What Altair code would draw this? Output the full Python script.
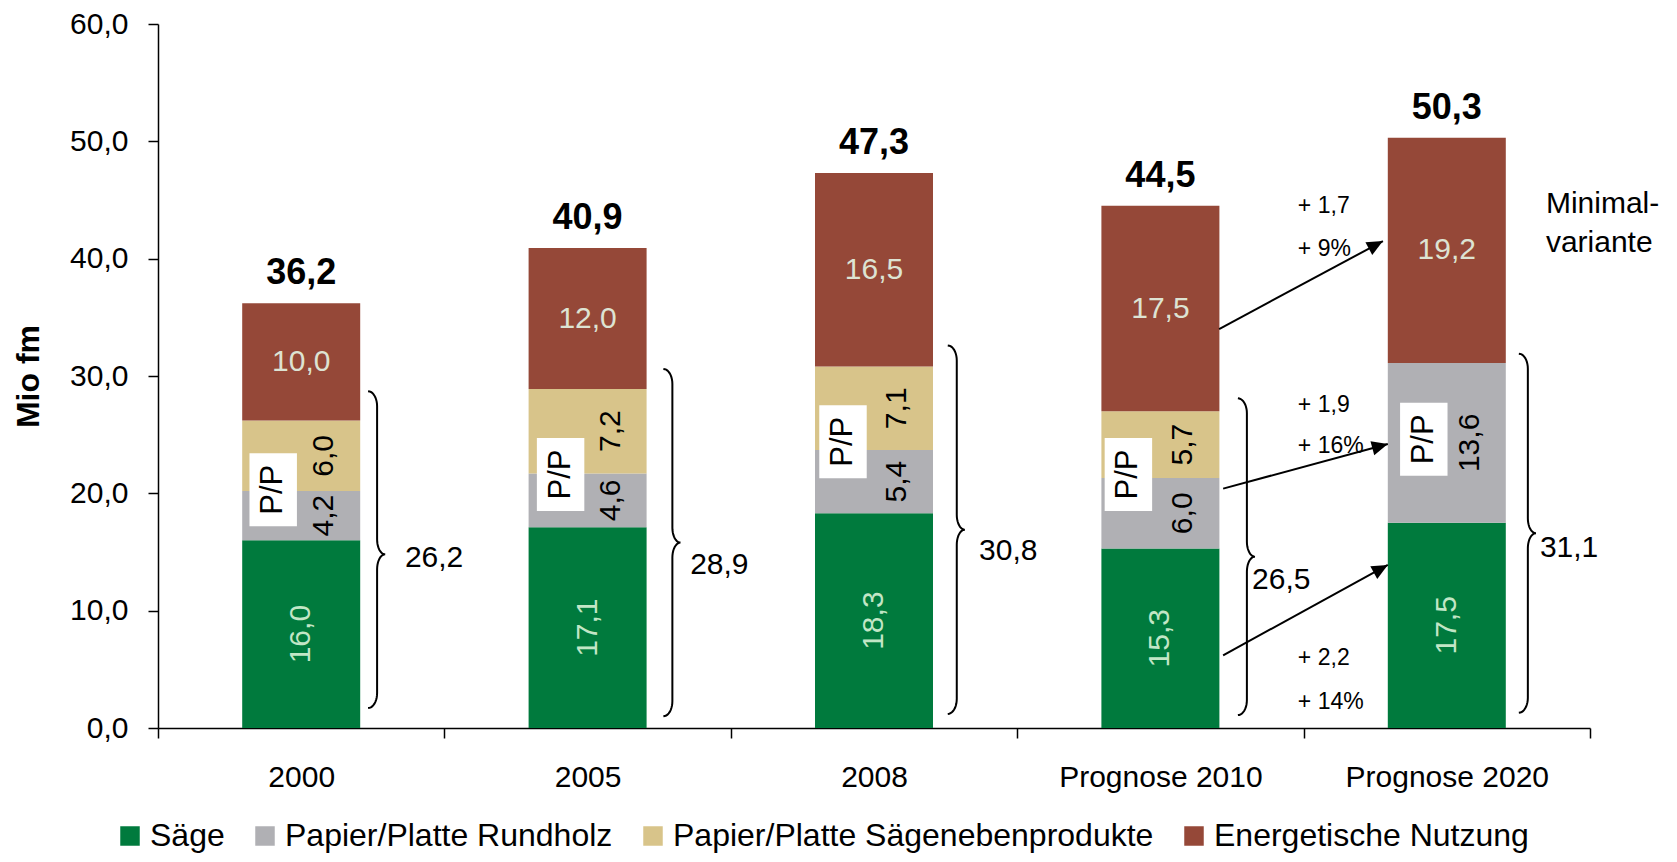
import json
import math
import altair as alt
import pandas as pd

# ---------------- data ----------------
categories = ["2000", "2005", "2008", "Prognose 2010", "Prognose 2020"]
series = ["Säge", "Papier/Platte Rundholz", "Papier/Platte Sägenebenprodukte", "Energetische Nutzung"]
saege = [16.0, 17.1, 18.3, 15.3, 17.5]
rundholz = [4.2, 4.6, 5.4, 6.0, 13.6]
saegeneben = [6.0, 7.2, 7.1, 5.7, 0.0]
energie = [10.0, 12.0, 16.5, 17.5, 19.2]
totals = [36.2, 40.9, 47.3, 44.5, 50.3]
colors = ["#007A3D", "#B0B0B4", "#D8C48A", "#954838"]

# braces (sum of Säge + P/P)
brace_sums = [26.2, 28.9, 30.8, 26.5, 31.1]
brace_x = [0.765, 1.796, 2.789, 3.802, 4.783]
brace_top = [28.7, 30.6, 32.6, 28.1, 31.9]
brace_mid = [14.8, 15.8, 16.9, 14.6, 16.6]
brace_bottom = [1.7, 1.0, 1.2, 1.1, 1.3]
brace_label_x = [0.862, 1.858, 2.867, 3.820, 4.825]
brace_label_y = [14.5, 13.9, 15.1, 12.6, 15.3]

# "P/P" boxes
pp_y = [20.3, 21.6, 24.4, 21.6, 24.6]
pp_dx_px = [-28, -27, -31, -32, -23]

# arrows 2010 -> 2020
arrow_x1 = [3.705, 3.719, 3.719]
arrow_y1 = [34.0, 20.4, 6.2]
arrow_x2 = [4.277, 4.294, 4.294]
arrow_y2 = [41.5, 24.2, 13.9]

change_labels = ["+ 1,7", "+ 9%", "+ 1,9", "+ 16%", "+ 2,2", "+ 14%"]
change_y = [44.5, 40.8, 27.5, 24.0, 6.0, 2.2]
change_x = 3.98

note_lines = ["Minimal-", "variante"]
note_y = [43.85, 40.6]
note_x = 4.846

y_ticks = [0, 10, 20, 30, 40, 50, 60]

# ---------------- layout ----------------
FONT = "Liberation Sans"
W, H = 1432, 704
XMAX, YMAX = 5, 60
PXX = W / XMAX
PXY = H / YMAX
BAR_HALF = 59 / PXX
SEG_DX = 23 / PXX


def fmt(v):
    return f"{v:.1f}".replace(".", ",")


x_scale = alt.Scale(domain=[0, XMAX], nice=False, zero=False)
y_scale = alt.Scale(domain=[0, YMAX], nice=False, zero=False)

label_arr = json.dumps(categories, ensure_ascii=False)
x_axis = alt.Axis(
    values=[i * 0.5 for i in range(0, 2 * XMAX + 1)],
    labelExpr=f"datum.value % 1 === 0.5 ? {label_arr}[floor(datum.value)] : ''",
    tickOpacity={"condition": {"test": "datum.value % 1 === 0", "value": 1}, "value": 0},
    tickSize=10,
    tickColor="black",
    tickWidth=1.5,
    domainColor="black",
    domainWidth=1.5,
    labelFontSize=30,
    labelFont=FONT,
    labelColor="black",
    labelPadding=24,
    labelLimit=600,
    labelOverlap=False,
    labelFlush=False,
    grid=False,
    title=None,
)
y_axis = alt.Axis(
    values=y_ticks,
    labelExpr="replace(format(datum.value, '.1f'), '.', ',')",
    tickSize=10,
    tickColor="black",
    tickWidth=1.5,
    domainColor="black",
    domainWidth=1.5,
    labelFontSize=30,
    labelFont=FONT,
    labelColor="black",
    labelPadding=20,
    grid=False,
    title="Mio fm",
    titleFont=FONT,
    titleFontSize=32,
    titleFontWeight="bold",
    titleColor="black",
    titleAngle=270,
    titleX=-130,
    titleY=H / 2,
    titleAlign="center",
    titleBaseline="middle",
)


def X(field):
    return alt.X(field, type="quantitative", scale=x_scale, axis=x_axis)


def Y(field):
    return alt.Y(field, type="quantitative", scale=y_scale, axis=y_axis)


# ---------------- bars ----------------
bar_rows, seg_rows = [], []
for i, cat in enumerate(categories):
    c = i + 0.5
    start = 0.0
    for s, vals in zip(series, [saege, rundholz, saegeneben, energie]):
        v = vals[i]
        if v <= 0:
            continue
        bar_rows.append({"cat": cat, "series": s, "x0": c - BAR_HALF, "x1": c + BAR_HALF,
                         "y0": start, "y1": start + v, "order": series.index(s)})
        seg_rows.append({"series": s, "label": fmt(v), "xc": c, "xs": c + SEG_DX,
                         "ym": start + v / 2})
        start += v
bars_df = pd.DataFrame(bar_rows)
seg_df = pd.DataFrame(seg_rows)

bars = alt.Chart(bars_df).mark_bar(strokeWidth=0).encode(
    x=X("x0"), x2="x1", y=Y("y0"), y2="y1",
    color=alt.Color("series:N", scale=alt.Scale(domain=series, range=colors),
                    legend=alt.Legend(orient="none", legendX=-44, legendY=796,
                                      direction="horizontal", columns=4, title=None,
                                      symbolType="square", symbolSize=380,
                                      symbolStrokeWidth=0, labelFontSize=32,
                                      labelFont=FONT, labelColor="black",
                                      labelLimit=1000, labelOffset=4,
                                      columnPadding=24, padding=0)),
)

green_lbl = alt.Chart(seg_df[seg_df.series == series[0]]).mark_text(
    font=FONT, fontSize=30, angle=270, color="#C2E6C6", align="center", baseline="middle"
).encode(x=X("xc"), y=Y("ym"), text="label:N")

pp_lbl = alt.Chart(seg_df[seg_df.series.isin(series[1:3])]).mark_text(
    font=FONT, fontSize=30, angle=270, color="black", align="center", baseline="middle"
).encode(x=X("xs"), y=Y("ym"), text="label:N")

brown_lbl = alt.Chart(seg_df[seg_df.series == series[3]]).mark_text(
    font=FONT, fontSize=30, color="#DDE3D3", align="center", baseline="middle"
).encode(x=X("xc"), y=Y("ym"), text="label:N")

tot_df = pd.DataFrame({"x": [i + 0.5 for i in range(len(categories))], "y": totals,
                       "label": [fmt(t) for t in totals]})
tot_lbl = alt.Chart(tot_df).mark_text(
    font=FONT, fontSize=36, fontWeight="bold", color="black", align="center",
    baseline="alphabetic", dy=-19
).encode(x=X("x"), y=Y("y"), text="label:N")

# ---------------- P/P boxes ----------------
pp_df = pd.DataFrame({"x": [i + 0.5 + d / PXX for i, d in enumerate(pp_dx_px)], "y": pp_y,
                      "label": ["P/P"] * len(pp_y)})
pp_box = alt.Chart(pp_df).mark_point(
    shape="M-0.65,-1L0.65,-1L0.65,1L-0.65,1Z", filled=True, color="white",
    opacity=1, size=73 * 73, strokeWidth=0
).encode(x=X("x"), y=Y("y"))
pp_text = alt.Chart(pp_df).mark_text(
    font=FONT, fontSize=31, angle=270, color="black", align="center", baseline="middle"
).encode(x=X("x"), y=Y("y"), text="label:N")

# ---------------- braces ----------------
RX_TOP, RX_MID, RY = 9.0, 8.0, 15.0
brace_rows = []
for b in range(len(brace_x)):
    sx, top, mid, bot = brace_x[b], brace_top[b], brace_mid[b], brace_bottom[b]
    pts = []  # (dx px from spine, reference y value, dy px on screen)
    n = 10
    for k in range(n + 1):
        t = math.pi / 2 * k / n
        pts.append((-RX_TOP + RX_TOP * math.sin(t), top, RY - RY * math.cos(t)))
    for k in range(n + 1):
        t = math.pi / 2 * k / n
        pts.append((RX_MID - RX_MID * math.cos(t), mid, -RY + RY * math.sin(t)))
    for k in range(1, n + 1):
        t = math.pi / 2 * k / n
        pts.append((RX_MID - RX_MID * math.sin(t), mid, RY - RY * math.cos(t)))
    for k in range(n + 1):
        t = math.pi / 2 * k / n
        pts.append((-RX_TOP + RX_TOP * math.cos(t), bot, -RY + RY * math.sin(t)))
    for j, (dxp, yref, dyp) in enumerate(pts):
        brace_rows.append({"id": b, "ord": j, "x": sx + dxp / PXX, "y": yref - dyp / PXY})
brace_df = pd.DataFrame(brace_rows)
braces = alt.Chart(brace_df).mark_line(color="black", strokeWidth=2).encode(
    x=X("x"), y=Y("y"), detail="id:N", order="ord:Q")

brace_lbl_df = pd.DataFrame({"x": brace_label_x, "y": brace_label_y,
                             "label": [fmt(v) for v in brace_sums]})
brace_lbl = alt.Chart(brace_lbl_df).mark_text(
    font=FONT, fontSize=30, color="black", align="left", baseline="middle"
).encode(x=X("x"), y=Y("y"), text="label:N")

# ---------------- arrows ----------------
angles = []
for a in range(len(arrow_x1)):
    dx = (arrow_x2[a] - arrow_x1[a]) * PXX
    dy = -(arrow_y2[a] - arrow_y1[a]) * PXY
    angles.append(math.degrees(math.atan2(dy, dx)) % 360)
arrow_df = pd.DataFrame({"x1": arrow_x1, "y1": arrow_y1, "x2": arrow_x2, "y2": arrow_y2,
                         "ang": angles})
arrow_lines = alt.Chart(arrow_df).mark_rule(color="black", strokeWidth=2).encode(
    x=X("x1"), y=Y("y1"), x2="x2", y2="y2")
arrow_heads = alt.Chart(arrow_df).mark_point(
    shape="M0,0L-1,-0.45L-1,0.45Z", filled=True, color="black", opacity=1,
    size=1024, strokeWidth=0
).encode(x=X("x2"), y=Y("y2"), angle=alt.Angle("ang:Q", scale=None))

chg_df = pd.DataFrame({"x": [change_x] * len(change_labels), "y": change_y,
                       "label": change_labels})
chg_lbl = alt.Chart(chg_df).mark_text(
    font=FONT, fontSize=23, color="black", align="left", baseline="middle"
).encode(x=X("x"), y=Y("y"), text="label:N")

note_df = pd.DataFrame({"x": [note_x] * len(note_lines), "y": note_y, "label": note_lines})
note_lbl = alt.Chart(note_df).mark_text(
    font=FONT, fontSize=30, color="black", align="left", baseline="alphabetic"
).encode(x=X("x"), y=Y("y"), text="label:N")

chart = alt.layer(
    bars, green_lbl, pp_lbl, brown_lbl, tot_lbl, pp_box, pp_text,
    braces, brace_lbl, arrow_lines, arrow_heads, chg_lbl, note_lbl
).properties(
    width=W, height=H,
    padding={"left": 150, "top": 16, "right": 75, "bottom": 126},
    autosize=alt.AutoSizeParams(type="none"),
).configure_view(stroke=None)

chart.save("out.html", embed_options={"renderer": "svg", "actions": False})
